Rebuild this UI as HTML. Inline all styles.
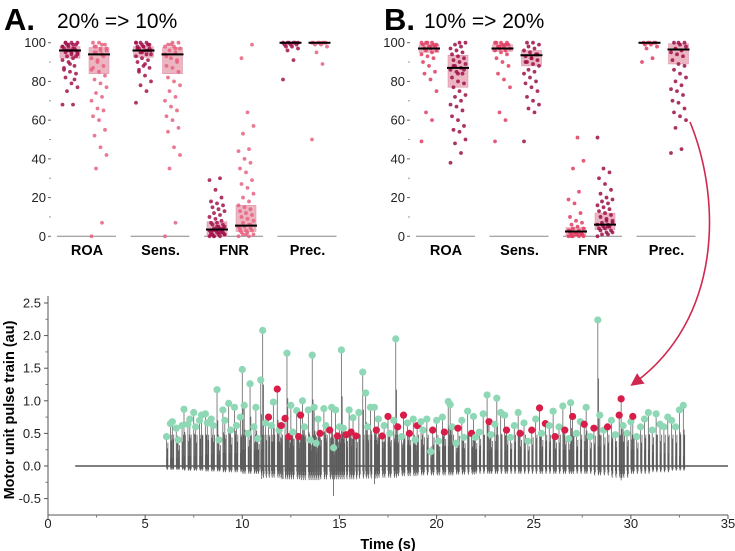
<!DOCTYPE html>
<html><head><meta charset="utf-8"><style>
body{margin:0;background:#fff;}
svg{display:block;font-family:"Liberation Sans",sans-serif;}
</style></head><body>
<svg id="fig" width="735" height="551" viewBox="0 0 735 551" xmlns="http://www.w3.org/2000/svg">
<defs><marker id="ah" markerWidth="8" markerHeight="8" refX="6" refY="4" orient="auto"><path d="M0,0 L8,4 L0,8 Z" fill="#d0284e"/></marker></defs>
<text x="4" y="30" font-size="31" font-weight="bold">A.</text>
<text x="57" y="28" font-size="21">20% =&gt; 10%</text>
<text x="384" y="30" font-size="31" font-weight="bold">B.</text>
<text x="424" y="28" font-size="21">10% =&gt; 20%</text>
<g id="top"></g>
<g id="bottom"></g>
<path d="M690,122 C722,200 722,320 633,384" fill="none" stroke="#d0284e" stroke-width="1.6" marker-end="url(#ah)"/>
</svg>
<script>
const NS="http://www.w3.org/2000/svg";
function mk(tag,attrs,parent,txt){const e=document.createElementNS(NS,tag);for(const k in attrs)e.setAttribute(k,attrs[k]);if(txt!==undefined)e.textContent=txt;parent.appendChild(e);return e;}

// ---------- top panels data ----------
const metrics=["ROA","Sens.","FNR","Prec."];
const yTicksTop=[0,20,40,60,80,100];
const boxA=[[[92,96,98],[84,94,97.5]],[[92.5,96,98],[84,94,97.5]],[[0,3.5,7.5],[2.5,5.5,16]],[[99.5,100,100],[99.5,100,100]]];
const boxB=[[[95,97,99],[77,87,93.5]],[[95.5,97,99],[88,93.5,96]],[[0,2.5,4.5],[3.5,6,12]],[[99.5,100,100],[89,96.5,99.5]]];
const dotsA=[
 [[68,68,75,77,79,82,84,85,87,88,90,91,92,93,94,95,95,96,96,97,97,98,98,99,99,100,100,100,93,89,86,81,99,98,97,96,95,94,100,99],
  [0,7,35,42,46,52,55,60,62,65,66,70,72,74,77,79,81,83,85,87,88,90,92,94,95,96,97,98,99,100,100,93,91,86,99,98,97,96,95]],
 [[69,75,78,80,83,85,87,88,90,91,92,93,94,95,96,96,97,97,98,98,99,99,100,100,100,94,89,86,99,98,97,96,95,100],
  [0,7,35,42,46,54,56,60,62,65,67,70,72,75,78,80,82,85,87,88,90,92,94,95,96,97,98,99,100,100,93,91,99,98,97]],
 [[0,0,0,1,1,1,2,2,2,3,3,3,4,4,5,5,6,6,7,7,8,9,10,11,12,13,14,15,16,17,18,20,24,29,30,0,1,2,3,4,5,1,2],
  [0,0,1,1,2,2,3,3,4,4,5,5,6,7,8,9,10,11,12,13,14,15,16,18,20,22,25,27,29,33,35,38,40,44,45,53,57,64,92,99,1,3,6]],
 [[81,91,96,97,98,98,99,99,99,100,100,100,100,100,100],
  [50,89,95,98,99,99,100,100,100,100,100,100,100]]];
const dotsB=[
 [[49,60,64,75,81,84,85,88,90,92,93,94,95,96,96,97,97,98,98,99,99,100,100,100,100,99,98,97],
  [38,43,48,50,54,55,57,60,62,65,67,68,70,72,73,75,77,79,80,82,84,85,86,87,88,89,90,91,92,93,94,95,96,97,98,99,100,100,88,86,84]],
 [[49,60,64,77,81,84,88,90,92,94,95,96,96,97,97,98,98,99,99,100,100,100,100,99,98],
  [49,64,66,68,70,72,75,77,79,80,82,84,85,86,88,89,90,91,92,93,94,95,96,97,98,99,100,100,94,92,90]],
 [[0,0,0,0,1,1,1,1,2,2,2,3,3,4,4,5,6,7,8,10,12,17,19,23,35,39,51,0,1,2,3],
  [0,1,1,2,2,3,3,4,4,5,5,6,6,7,8,9,10,11,12,13,14,15,16,17,18,19,20,22,24,27,30,33,35,51,5,6,7,8]],
 [[90,92,97,98,99,99,100,100,100,100,100],
  [43,45,56,60,62,64,66,69,70,73,75,76,78,80,82,84,86,88,89,91,93,94,95,96,97,98,99,100,100,100]]];

const topG=document.getElementById('top');
const yTop=v=>236.3-v*1.936;
function panel(ox,boxes,dots,cols,name){
  const g=mk('g',{},topG);
  
  
  yTicksTop.forEach(t=>{
    const tl=mk('text',{x:ox+46,y:yTop(t)+4.5,'font-size':13,'text-anchor':'end',fill:'#222'},g,String(t));
    
    
    mk('line',{x1:ox+48,x2:ox+51,y1:yTop(t),y2:yTop(t),stroke:'#666'},g);
    if(t<100) mk('line',{x1:ox+49,x2:ox+51,y1:yTop(t+10),y2:yTop(t+10),stroke:'#999'},g);
  });
  metrics.forEach((m,i)=>{
    const cx=ox+87+i*73.5;
    const bl=mk('line',{x1:cx-30,x2:cx+29,y1:yTop(0),y2:yTop(0),stroke:'#888','stroke-width':1},g);
    
    
    const lbl=mk('text',{x:cx,y:255,'font-size':14.5,'font-weight':'bold','text-anchor':'middle'},g,m);
    
    
    [0,1].forEach(k=>{
      const bx=cx+(k===0?-17:12);
      const s=boxes[i][k];
      const r=mk('rect',{x:bx-10,y:yTop(s[2]),width:20,height:Math.max(1,yTop(s[0])-yTop(s[2])),fill:'#e7a2b3','fill-opacity':0.8,stroke:'#d98aa0','stroke-width':0.5},g);
      
      
      dots[i][k].forEach((v,j)=>{
        const jx=((j*7)%11-5)*1.5;
        const d=mk('circle',{cx:bx+jx,cy:yTop(v),r:1.9,fill:cols[k],'fill-opacity':0.85},g);
        
        
      });
      const md=mk('line',{x1:bx-11,x2:bx+11,y1:yTop(s[1]),y2:yTop(s[1]),stroke:'#000','stroke-width':2},g);
      
      
    });
  });
}
panel(0,boxA,dotsA,['#a3124c','#e8617f'],'panel-a');
panel(359,boxB,dotsB,['#e23d62','#9c0f48'],'panel-b');

// ---------- bottom pulse train ----------
const xTicksB=[0,5,10,15,20,25,30,35];
const yTicksB=[-0.5,0,0.5,1.0,1.5,2.0,2.5];
const spikeTimes=[6.1,6.3,6.4,6.6,6.7,6.9,7.0,7.2,7.3,7.5,7.6,7.8,7.9,8.1,8.2,8.4,8.5,8.7,8.8,9.0,9.1,9.3,9.4,9.6,9.7,9.9,10.0,10.1,10.3,10.4,10.6,10.7,10.8,10.95,11.05,11.2,11.35,11.5,11.6,11.8,11.9,12.0,12.2,12.3,12.4,12.5,12.6,12.8,12.9,13.0,13.1,13.2,13.4,13.5,13.6,13.7,13.8,13.9,14.0,14.2,14.3,14.5,14.6,14.7,14.8,14.9,15.0,15.1,15.2,15.35,15.5,15.6,15.7,15.85,16.0,16.2,16.35,16.45,16.6,16.8,16.9,17.0,17.2,17.3,17.5,17.6,17.8,17.9,18.0,18.2,18.3,18.5,18.6,18.8,18.9,19.0,19.2,19.3,19.5,19.7,19.8,20.0,20.1,20.3,20.4,20.6,20.7,20.8,21.0,21.1,21.3,21.4,21.6,21.8,21.9,22.0,22.2,22.4,22.6,22.7,22.8,23.0,23.1,23.3,23.5,23.6,23.8,24.0,24.2,24.3,24.5,24.7,24.9,25.1,25.3,25.4,25.6,25.8,26.0,26.1,26.3,26.5,26.6,26.8,26.9,27.0,27.2,27.4,27.6,27.7,27.9,28.1,28.3,28.4,28.6,28.8,29.0,29.2,29.4,29.5,29.6,29.8,30.0,30.1,30.3,30.5,30.7,30.9,31.1,31.3,31.5,31.7,31.9,32.1,32.3,32.5,32.7];
const spikeHeights=[.45,.65,.68,.58,.4,.62,.87,.64,.72,.82,.6,.7,.78,.8,.66,.72,.62,1.17,.4,.86,.7,.96,.55,.9,.62,.75,1.48,.93,.5,1.26,.6,.9,.42,1.32,2.08,.66,.75,.62,.98,1.18,.55,.62,.73,1.73,.45,.93,.52,.85,.45,.78,1.0,.6,.86,.4,1.7,.9,.35,.72,.5,.88,.62,.55,.9,.28,.86,.46,.6,1.78,.58,.48,.86,.52,.74,.46,.82,1.44,1.12,.6,.9,.9,.55,.72,.46,.62,.76,.5,.7,1.95,.6,.45,.78,.66,.5,.72,.4,.62,.68,.55,.72,.22,.55,.7,.38,.75,.52,.99,.94,.6,.35,.58,.7,.44,.84,.5,.76,.44,.52,.8,1.09,.68,.48,.64,1.04,.82,.78,.55,.44,.62,.82,.5,.66,.38,.55,.72,.89,.5,.65,.62,.84,.45,.6,.92,.55,.42,.97,.76,.5,.68,.64,.9,.45,.58,2.24,.78,.55,.6,.7,.48,.78,1.03,.62,.5,.68,.76,.45,.6,.72,.82,.55,.8,.64,.6,.75,.7,.6,.86,.93];
const missedTimes=[11.35,11.8,12.0,12.2,12.4,12.9,13.0,14.0,14.5,14.9,15.35,15.6,15.85,16.9,17.2,17.5,18.0,18.3,18.6,19.0,19.8,20.4,21.1,21.8,22.7,23.6,24.3,24.9,25.3,25.6,26.1,26.6,27.0,27.6,28.1,28.8,29.4,29.5,30.1];
const noiseEnv=[0,0,0,0,0,0,0.05,0.06,0.07,0.08,0.1,0.15,0.17,0.18,0.17,0.17,0.16,0.15,0.13,0.12,0.12,0.11,0.1,0.1,0.1,0.1,0.1,0.1,0.12,0.15,0.1,0.08,0.06,0.04,0.02,0.02];
const dipTimes=[14.7,16.8,29.5,11.0,12.1];
const dipValues=[-0.46,-0.28,-0.22,-0.2,-0.2];

const bot=document.getElementById('bottom');
const AXY=515;
const X=t=>48+t*(680/35);
const Y=v=>466-v*65.2;
const yAx=mk('line',{x1:48,x2:48,y1:296,y2:AXY,stroke:'#555'},bot);


const xAx=mk('line',{x1:48,x2:728,y1:AXY,y2:AXY,stroke:'#555'},bot);


xTicksB.forEach(t=>{
  mk('line',{x1:X(t),x2:X(t),y1:AXY,y2:AXY+4,stroke:'#555'},bot);
  if(t<35) mk('line',{x1:X(t+2.5),x2:X(t+2.5),y1:AXY,y2:AXY+2.5,stroke:'#777'},bot);
  const l=mk('text',{x:X(t),y:AXY+13,'font-size':13,'text-anchor':'middle',fill:'#222'},bot,String(t));
  
  
});
yTicksB.forEach(v=>{
  mk('line',{x1:44,x2:48,y1:Y(v),y2:Y(v),stroke:'#555'},bot);
  if(v<2.5) mk('line',{x1:45.5,x2:48,y1:Y(v+0.25),y2:Y(v+0.25),stroke:'#777'},bot);
  const l=mk('text',{x:41,y:Y(v)+4.5,'font-size':13,'text-anchor':'end',fill:'#222'},bot,v.toFixed(1));
  
  
});
const xt=mk('text',{x:388,y:549,'font-size':14.5,'font-weight':'bold','text-anchor':'middle'},bot,'Time (s)');


const yt=mk('text',{x:0,y:0,'font-size':14.5,'font-weight':'bold','text-anchor':'middle',transform:'translate(14,410) rotate(-90)'},bot,'Motor unit pulse train (au)');


const base=mk('line',{x1:X(1.4),x2:X(35),y1:Y(0),y2:Y(0),stroke:'#555','stroke-width':1.5},bot);


const trace=mk('g',{stroke:'#5a5a5a','stroke-width':0.8},bot);


spikeTimes.forEach((t,i)=>{
  const env=noiseEnv[Math.floor(t)];
  const h=spikeHeights[i];
  mk('line',{x1:X(t),x2:X(t),y1:Y(-env*0.5),y2:Y(h),stroke:'#666'},trace);
  mk('line',{x1:X(t+0.04),x2:X(t+0.04),y1:Y(-env*1.2),y2:Y(h*0.6)},trace);
  mk('line',{x1:X(t+0.07),x2:X(t+0.07),y1:Y(-env*0.8),y2:Y(Math.min(h,0.6)*0.8)},trace);
  mk('line',{x1:X(t+0.02),x2:X(t+0.02),y1:Y(-env),y2:Y(env*2.5)},trace);
});
dipTimes.forEach((t,i)=>{mk('line',{x1:X(t),x2:X(t),y1:Y(0),y2:Y(dipValues[i])},trace);});
spikeTimes.forEach((t,i)=>{
  const missed=missedTimes.indexOf(t)>=0;
  const c=mk('circle',{cx:X(t),cy:Y(spikeHeights[i]),r:3.6,fill:missed?'#d81e48':'#8ed8b6'},bot);
  
  
});
</script>
</body></html>
